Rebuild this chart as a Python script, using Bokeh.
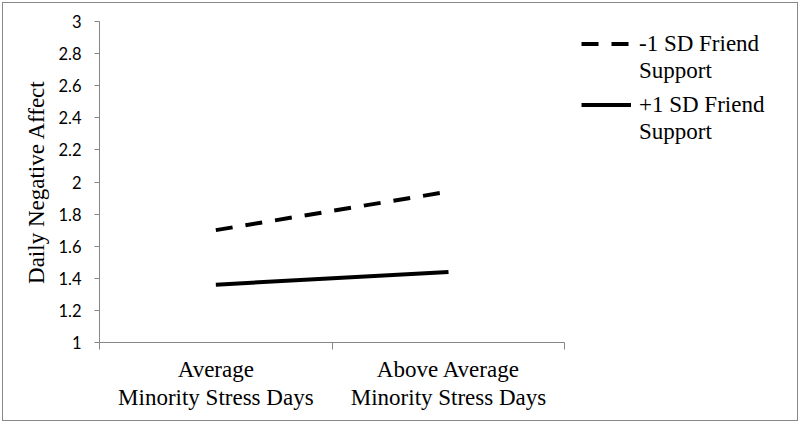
from bokeh.plotting import figure
from bokeh.models import Range1d, FixedTicker, Legend, LegendItem
from bokeh.embed import file_html
from bokeh.resources import INLINE

# ---- data ----
categories = ["Average\nMinority Stress Days", "Above Average\nMinority Stress Days"]
series_names = ["-1 SD Friend", "+1 SD Friend"]
series_second_line = "Support"
low_friend_support = [1.70, 1.94]
high_friend_support = [1.36, 1.44]
y_ticks = [1.0, 1.2, 1.4, 1.6, 1.8, 2.0, 2.2, 2.4, 2.6, 2.8, 3.0]
y_tick_labels = ["1", "1.2", "1.4", "1.6", "1.8", "2", "2.2", "2.4", "2.6", "2.8", "3"]
y_title = "Daily Negative Affect"

n = len(categories)
x_pos = [i + 0.5 for i in range(n)]
x_bounds = [float(i) for i in range(n + 1)]

AXIS = "#868686"
SERIF = "Liberation Serif"

# frame: 0..n is the category area, n..n+1 holds the legend
p = figure(width=796, height=419, output_backend="svg", toolbar_location=None,
           x_range=Range1d(0, n + 1), y_range=Range1d(y_ticks[0], y_ticks[-1]),
           min_border_left=96, min_border_right=2, min_border_top=18, min_border_bottom=80,
           styles={"border": "1px solid #888888", "margin": "2px 0 0 2px"})
p.outline_line_color = None
p.grid.visible = False
p.background_fill_color = "white"
p.border_fill_color = "white"

# y axis
ya = p.yaxis[0]
ya.ticker = FixedTicker(ticks=y_ticks, minor_ticks=[])
ya.major_label_overrides = {t: l for t, l in zip(y_ticks, y_tick_labels)}
ya.axis_line_color = AXIS
ya.major_tick_line_color = AXIS
ya.major_tick_in = 0
ya.major_tick_out = 5
ya.major_label_standoff = 13
ya.major_label_text_font = "Lato"
ya.major_label_text_font_size = "16.5px"
ya.major_label_text_color = "black"
ya.axis_label = y_title
ya.axis_label_text_font = SERIF
ya.axis_label_text_font_size = "23px"
ya.axis_label_text_font_style = "normal"
ya.axis_label_text_color = "black"
ya.axis_label_standoff = 6

# x axis
xa = p.xaxis[0]
xa.bounds = (0, n)
xa.ticker = FixedTicker(ticks=x_pos, minor_ticks=x_bounds)
xa.major_label_overrides = {x: c for x, c in zip(x_pos, categories)}
xa.axis_line_color = AXIS
xa.major_tick_line_color = None
xa.major_tick_in = 0
xa.major_tick_out = 0
xa.minor_tick_line_color = AXIS
xa.minor_tick_in = 0
xa.minor_tick_out = 7
xa.major_label_standoff = 7
xa.major_label_text_font = SERIF
xa.major_label_text_font_size = "23px"
xa.major_label_text_color = "black"
xa.major_label_text_line_height = 1.15

r_low = p.line(x_pos, low_friend_support, line_color="black", line_width=4, line_dash="17 13")
r_high = p.line(x_pos, high_friend_support, line_color="black", line_width=4)
r_blank = p.line(x=[], y=[], line_alpha=0)


def make_legend(renderer, name, loc):
    lg = Legend(items=[LegendItem(label=name, renderers=[renderer]),
                       LegendItem(label=series_second_line, renderers=[r_blank])],
                location=loc, orientation="vertical")
    lg.padding = 0
    lg.margin = 0
    lg.spacing = 0
    lg.glyph_width = 50
    lg.glyph_height = 27
    lg.label_height = 27
    lg.label_standoff = 8
    lg.label_text_font = SERIF
    lg.label_text_font_size = "23px"
    lg.label_text_color = "black"
    lg.border_line_color = None
    lg.background_fill_alpha = 0
    return lg


p.add_layout(make_legend(r_low, series_names[0], (482, 258)))
p.add_layout(make_legend(r_high, series_names[1], (482, 197)))

open("out.html", "w").write(file_html(p, INLINE))
